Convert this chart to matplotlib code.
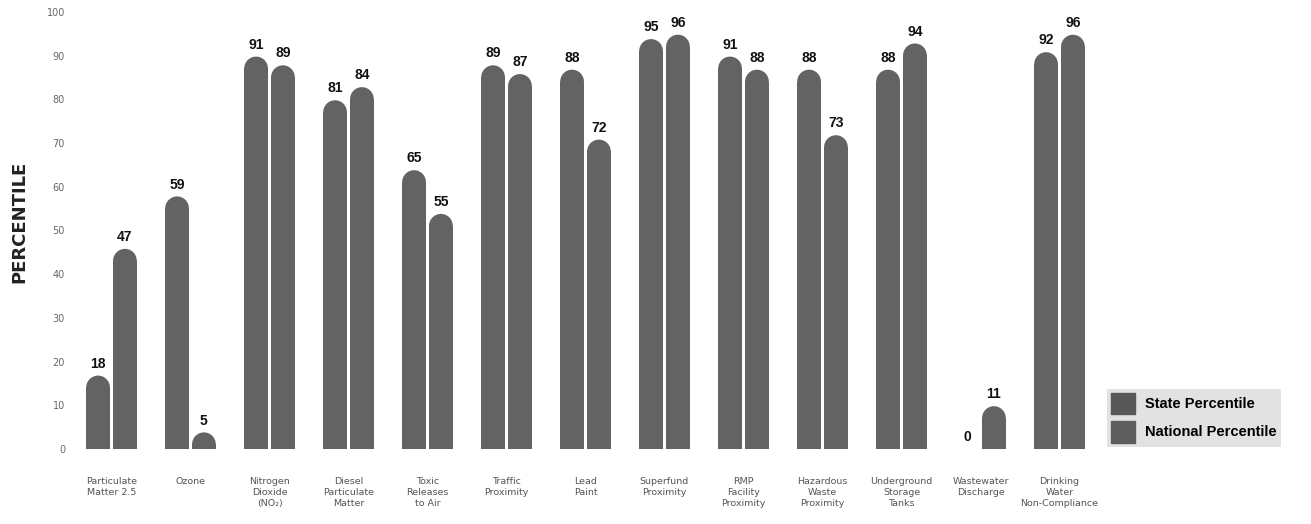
import matplotlib.pyplot as plt
from matplotlib.patches import Ellipse, Patch
import numpy as np

categories = [
    "Particulate\nMatter 2.5", "Ozone", "Nitrogen\nDioxide\n(NO\u2082)",
    "Diesel\nParticulate\nMatter", "Toxic\nReleases\nto Air", "Traffic\nProximity",
    "Lead\nPaint", "Superfund\nProximity", "RMP\nFacility\nProximity",
    "Hazardous\nWaste\nProximity", "Underground\nStorage\nTanks",
    "Wastewater\nDischarge", "Drinking\nWater\nNon-Compliance",
]
state_pct = [18, 59, 91, 81, 65, 89, 88, 95, 91, 88, 88, 0, 92]
national_pct = [47, 5, 89, 84, 55, 87, 72, 96, 88, 73, 94, 11, 96]
yticks = list(range(0, 101, 10))

BAR = "#636363"
W = 0.30
OFF = 0.17
INSET = 1.2  # caps sit a touch below the value in the original

fig = plt.figure(figsize=(13.11, 5.24), dpi=100)
ax = fig.add_axes([72 / 1311, 75 / 524, 1027 / 1311, 437 / 524])
ax.set_xlim(-0.5, 12.5)
ax.set_ylim(0, 100)

# vertical radius of the rounded cap in data units (keeps it circular on screen)
px_per_x = 1027 / 13
px_per_y = 437 / 100
ry = (W * px_per_x / 2) / px_per_y

x = np.arange(len(categories))
for vals, dx in [(state_pct, -OFF), (national_pct, OFF)]:
    for xi, v in zip(x + dx, vals):
        top = v - INSET
        if v > 0:
            body = max(top - ry, 0)
            ax.bar(xi, body, width=W, color=BAR, linewidth=0)
            ax.add_patch(Ellipse((xi, body), W, 2 * ry, color=BAR, linewidth=0))
        ax.annotate(str(v), (xi, max(top, 0)), xytext=(0, 3.5), textcoords="offset points",
                    ha="center", va="bottom", fontsize=10, fontweight="bold",
                    family="Liberation Sans", color="#111111")

for xi, lab in zip(x, categories):
    ax.text(xi, -6.3, lab, ha="center", va="top", fontsize=6.8,
            color="#555555", linespacing=1.3)

ax.set_xticks([])
ax.set_yticks(yticks)
ax.tick_params(axis="y", length=0, labelsize=7, labelcolor="#666666", pad=5)
for s in ax.spines.values():
    s.set_visible(False)

fig.text(19 / 1311, 1 - 222 / 524, "PERCENTILE", rotation=90, ha="center",
         va="center", fontsize=13, fontweight="bold", color="#222222")

handles = [Patch(color="#575757", label="State Percentile"),
           Patch(color="#5e5e5e", label="National Percentile")]
leg = fig.legend(handles=handles, loc="lower left",
                 bbox_to_anchor=(1107 / 1311, 77 / 524), frameon=True,
                 fancybox=False, facecolor="#e2e2e2", edgecolor="none",
                 framealpha=1, handlelength=1.6, handleheight=1.9,
                 prop={"weight": "bold", "size": 10.5, "family": "Liberation Sans"},
                 borderpad=0.3, labelspacing=0.45, handletextpad=0.7,
                 borderaxespad=0)

fig.savefig("out.png", dpi=100)
